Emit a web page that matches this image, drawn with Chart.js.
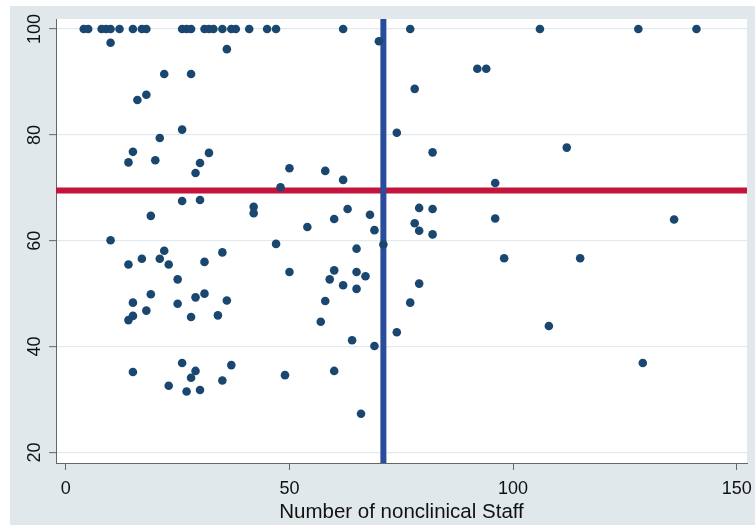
<!DOCTYPE html>
<html>
<head>
<meta charset="utf-8">
<script src="https://cdn.jsdelivr.net/npm/chart.js@4"></script>
<style>
  html, body { margin: 0; padding: 0; background: #fff; }
</style>
</head>
<body>
<canvas id="chart" width="755" height="525"></canvas>
<script>
// data
const nonclinicalStaff = [
  4, 5, 8, 9, 10, 12, 15, 17, 18, 26, 27, 28, 31, 32, 33, 35, 37, 38, 41, 45, 47, 62, 77, 106, 128, 141,
  10, 36, 70, 22, 28, 16, 18, 26, 21, 15, 32, 14, 20, 30, 29,
  92, 94, 78, 74, 82, 112,
  50, 58, 62, 48, 26, 30, 42, 42, 19, 54, 60, 63, 68, 69, 10, 47, 65, 22, 35,
  17, 21, 14, 23, 31, 50, 60, 59, 65, 67, 62, 65, 25, 19, 15, 25, 29, 31, 36, 58, 18,
  96, 79, 82, 96, 136, 78, 79, 82, 71, 98, 115, 79, 77,
  14, 15, 28, 34, 57, 64, 69, 15, 26, 29, 28, 23, 27, 30, 35, 37, 49, 60, 66,
  74, 108, 129
];
const scores = [
  100, 100, 100, 100, 100, 100, 100, 100, 100, 100, 100, 100, 100, 100, 100, 100, 100, 100, 100, 100, 100, 100, 100, 100, 100, 100,
  97.4, 96.2, 97.7, 91.5, 91.5, 86.6, 87.6, 81.0, 79.4, 76.8, 76.6, 74.8, 75.2, 74.7, 72.8,
  92.5, 92.5, 88.7, 80.4, 76.7, 77.6,
  73.7, 73.2, 71.5, 70.1, 67.5, 67.7, 66.4, 65.2, 64.7, 62.6, 64.1, 66.0, 64.9, 62.0, 60.1, 59.4, 58.5, 58.1, 57.8,
  56.6, 56.6, 55.5, 55.5, 56.0, 54.1, 54.4, 52.7, 54.1, 53.3, 51.6, 50.9, 52.7, 49.9, 48.3, 48.1, 49.3, 50.0, 48.7, 48.6, 46.8,
  70.9, 66.2, 66.0, 64.2, 64.0, 63.3, 61.9, 61.2, 59.3, 56.7, 56.7, 51.9, 48.3,
  45.0, 45.8, 45.6, 45.9, 44.7, 41.2, 40.1, 35.2, 36.9, 35.4, 34.1, 32.6, 31.5, 31.8, 33.6, 36.5, 34.6, 35.4, 27.3,
  42.7, 43.9, 36.9
];
const xTicks = [0, 50, 100, 150];
const yTicks = [20, 40, 60, 80, 100];
const refStaff = 71;
const refScore = 69.5;
const xMin = -2.2, xMax = 152.3, yMin = 18, yMax = 101.9;

const FONT = "'Liberation Sans', Arial, Helvetica, sans-serif";

const points = nonclinicalStaff.map((x, i) => ({ x: x, y: scores[i] }));

// grey graph region + white plot region
const background = {
  id: 'background',
  beforeDraw(chart) {
    const { ctx, chartArea: a } = chart;
    ctx.save();
    ctx.fillStyle = '#e0e8eb';
    ctx.fillRect(10, 6, chart.width - 10, chart.height - 6);
    ctx.fillStyle = '#ffffff';
    ctx.fillRect(a.left, a.top, a.right - a.left, a.bottom - a.top);
    ctx.restore();
  }
};

// vertical y tick labels, like stata
const yLabels = {
  id: 'yLabels',
  afterDraw(chart) {
    const { ctx } = chart;
    const ys = chart.scales.y;
    ctx.save();
    ctx.fillStyle = '#111';
    ctx.font = '18px ' + FONT;
    ctx.textAlign = 'center';
    ctx.textBaseline = 'middle';
    yTicks.forEach(v => {
      ctx.save();
      ctx.translate(35, ys.getPixelForValue(v));
      ctx.rotate(-Math.PI / 2);
      ctx.fillText(String(v), 0, 0);
      ctx.restore();
    });
    ctx.restore();
  }
};

new Chart(document.getElementById('chart'), {
  type: 'scatter',
  data: {
    datasets: [
      {
        data: points,
        backgroundColor: '#1a476f',
        borderColor: '#1a476f',
        borderWidth: 0,
        pointRadius: 4.3,
        order: 0
      },
      {
        type: 'line',
        data: [{ x: refStaff, y: yMin }, { x: refStaff, y: yMax }],
        borderColor: '#2a4c9c',
        borderWidth: 6,
        pointRadius: 0,
        order: 1
      },
      {
        type: 'line',
        data: [{ x: xMin, y: refScore }, { x: xMax, y: refScore }],
        borderColor: '#c4143c',
        borderWidth: 6,
        pointRadius: 0,
        order: 2
      }
    ]
  },
  options: {
    responsive: false,
    animation: false,
    layout: { padding: { left: 10, top: 19, right: 8, bottom: 0 } },
    plugins: { legend: { display: false }, tooltip: { enabled: false } },
    scales: {
      x: {
        type: 'linear',
        min: xMin,
        max: xMax,
        afterBuildTicks: s => { s.ticks = xTicks.map(v => ({ value: v })); },
        afterFit: s => { s.height = 62; s.paddingLeft = 0; s.paddingRight = 0; },
        ticks: { font: { family: FONT, size: 18 }, color: '#111', padding: 8, maxRotation: 0, autoSkip: false },
        grid: { drawOnChartArea: false, drawTicks: true, tickLength: 7, tickColor: '#666', tickWidth: 1 },
        border: { color: '#666', width: 1 },
        title: {
          display: true,
          text: 'Number of nonclinical Staff',
          font: { family: FONT, size: 20.5 },
          color: '#111',
          padding: { top: 2, bottom: 0 }
        }
      },
      y: {
        type: 'linear',
        min: yMin,
        max: yMax,
        afterBuildTicks: s => { s.ticks = yTicks.map(v => ({ value: v })); },
        afterFit: s => { s.width = 46; s.paddingTop = 0; s.paddingBottom = 0; },
        ticks: { display: false },
        grid: { color: '#e2eaed', lineWidth: 1.3, drawTicks: true, tickLength: 7, tickColor: '#666', tickWidth: 1 },
        border: { color: '#666', width: 1 }
      }
    }
  },
  plugins: [background, yLabels]
});
</script>
</body>
</html>
